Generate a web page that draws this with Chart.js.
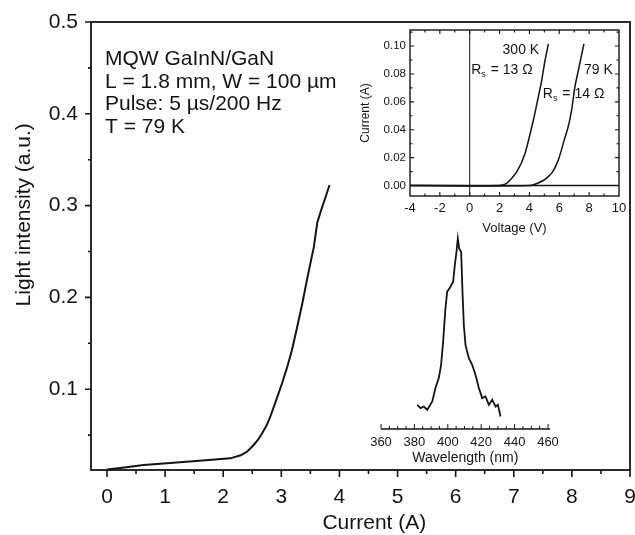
<!DOCTYPE html>
<html>
<head>
<meta charset="utf-8">
<script src="https://cdn.jsdelivr.net/npm/chart.js@4/dist/chart.umd.min.js"></script>
<style>
  html, body { margin: 0; padding: 0; background: #fff; }
  #wrap { position: relative; width: 635px; height: 535px; overflow: hidden; }
  canvas { position: absolute; }
  #main { left: 0; top: 0; }
  #iv { left: 360px; top: 25px; }
  #spec { left: 360px; top: 220px; }
</style>
</head>
<body>
<div id="wrap">
  <canvas id="main" width="635" height="535" style="width:635px;height:535px"></canvas>
  <canvas id="spec" width="212" height="252" style="width:212px;height:252px"></canvas>
  <canvas id="iv" width="272" height="212" style="width:272px;height:212px"></canvas>
</div>
<script>
// ---- Light output vs drive current (L-I curve) ----
const currentA = [0, 0.3, 0.63, 1.2, 1.7, 2.12, 2.3, 2.41, 2.52, 2.6, 2.67, 2.75, 2.81, 2.9, 3.01,
                  3.1, 3.18, 3.27, 3.36, 3.46, 3.56, 3.62, 3.7, 3.77, 3.83];
const lightIntensity = [0.0125, 0.0148, 0.0174, 0.0203, 0.0226, 0.0247, 0.028, 0.032, 0.039, 0.045, 0.052,
                        0.061, 0.070, 0.086, 0.106, 0.124, 0.142, 0.167, 0.193, 0.225, 0.255, 0.282,
                        0.298, 0.311, 0.3225];
const mainXTicks = [0, 1, 2, 3, 4, 5, 6, 7, 8, 9];
const mainXLabels = ['0', '1', '2', '3', '4', '5', '6', '7', '8', '9'];
const mainYTicks = [0.1, 0.2, 0.3, 0.4, 0.5];
const mainYLabels = ['0.1', '0.2', '0.3', '0.4', '0.5'];
const sampleInfo = ['MQW GaInN/GaN', 'L = 1.8 mm, W = 100 µm', 'Pulse: 5 µs/200 Hz', 'T = 79 K'];

// ---- I-V characteristics ----
const volt300K = [-4, 2.0, 2.49, 3.16, 3.71, 4.27, 4.6, 4.83, 5.05, 5.27];
const curr300K = [0, 0, 0.0017, 0.010, 0.0232, 0.0471, 0.0638, 0.0758, 0.090, 0.1016];
const volt79K = [-4, 4.05, 4.93, 5.49, 5.94, 6.27, 6.6, 6.83, 7.05, 7.38, 7.65];
const curr79K = [0, 0, 0.0036, 0.0089, 0.0184, 0.0304, 0.0423, 0.0543, 0.071, 0.0877, 0.1016];
const ivXTicks = [-4, -2, 0, 2, 4, 6, 8, 10];
const ivXLabels = ['-4', '-2', '0', '2', '4', '6', '8', '10'];
const ivYTicks = [0, 0.02, 0.04, 0.06, 0.08, 0.10];
const ivYLabels = ['0.00', '0.02', '0.04', '0.06', '0.08', '0.10'];

// ---- Emission spectrum ----
const wavelengthNm = [381.7, 383.7, 385.6, 387.7, 390.7, 392.6, 394.6, 396, 397.2, 398.6, 399.6, 401.6,
                      403.2, 404.2, 405.2, 406, 406.8, 408, 408.8, 409.6, 410.6, 412.6, 414.6, 416.6,
                      418.6, 420.6, 422.6, 424.6, 426.6, 428.6, 430, 431.6];
const specIntensity = [0.127, 0.11, 0.118, 0.101, 0.145, 0.215, 0.267, 0.337, 0.459, 0.634, 0.72, 0.747,
                       0.773, 0.86, 0.93, 1.0, 0.948, 0.93, 0.72, 0.546, 0.441, 0.372, 0.337, 0.284,
                       0.215, 0.162, 0.171, 0.127, 0.153, 0.118, 0.127, 0.066];
const specXTicks = [360, 380, 400, 420, 440, 460];
const specXLabels = ['360', '380', '400', '420', '440', '460'];

const FONT = '"Liberation Sans", Arial, Helvetica, sans-serif';
const INK = '#141414';

function pts(xs, ys) { return xs.map((x, i) => ({ x, y: ys[i] })); }
function range(a, b, step) { const out = []; for (let v = a; v <= b + 1e-9; v += step) out.push(+v.toFixed(6)); return out; }

function setTicks(values) { return s => { s.ticks = values.map(v => ({ value: v })); }; }
// fixed axis band; tick labels may overhang the plot edges
function fixHeight(h) { return s => { s.height = h; s.paddingLeft = 0; s.paddingRight = 0; }; }
function fixWidth(w) { return s => { s.width = w; s.paddingTop = 0; s.paddingBottom = 0; }; }

function drawTickMarks(ctx, chart, scale, values, len, side, inward) {
  const a = chart.chartArea;
  ctx.beginPath();
  values.forEach(v => {
    const p = scale.getPixelForValue(v);
    if (side === 'left') { ctx.moveTo(a.left, p); ctx.lineTo(inward ? a.left + len : a.left - len, p); }
    if (side === 'right') { ctx.moveTo(a.right, p); ctx.lineTo(inward ? a.right - len : a.right + len, p); }
    if (side === 'bottom') { ctx.moveTo(p, a.bottom); ctx.lineTo(p, inward ? a.bottom - len : a.bottom + len); }
    if (side === 'top') { ctx.moveTo(p, a.top); ctx.lineTo(p, inward ? a.top + len : a.top - len); }
  });
  ctx.stroke();
}

function text(ctx, str, x, y, font, align, baseline, rot) {
  ctx.save();
  ctx.font = font; ctx.fillStyle = INK;
  ctx.textAlign = align || 'left'; ctx.textBaseline = baseline || 'alphabetic';
  ctx.translate(x, y);
  if (rot) ctx.rotate(rot);
  ctx.fillText(str, 0, 0);
  ctx.restore();
}

// R with subscript s, followed by the rest of the label
function rsLabel(ctx, rest, x, y, size) {
  ctx.save();
  ctx.fillStyle = INK; ctx.textBaseline = 'alphabetic'; ctx.textAlign = 'left';
  ctx.font = size + 'px ' + FONT;
  ctx.fillText('R', x, y);
  const w = ctx.measureText('R').width;
  ctx.font = Math.round(size * 0.62) + 'px ' + FONT;
  ctx.fillText('s', x + w, y + 3);
  const ws = ctx.measureText('s').width;
  ctx.font = size + 'px ' + FONT;
  ctx.fillText(rest, x + w + ws + 1, y);
  ctx.restore();
}

Chart.defaults.font.family = FONT;
Chart.defaults.color = INK;

// ================= main L-I chart =================
const mainDecor = {
  id: 'mainDecor',
  afterDraw(chart) {
    const { ctx, chartArea: a, scales: { x, y } } = chart;
    ctx.save();
    ctx.strokeStyle = INK;
    ctx.lineWidth = 1.8;
    ctx.strokeRect(a.left, a.top, a.right - a.left, a.bottom - a.top);
    ctx.lineWidth = 1.6;
    drawTickMarks(ctx, chart, y, mainYTicks, 6, 'left', false);
    drawTickMarks(ctx, chart, y, [0.05, 0.15, 0.25, 0.35, 0.45], 3, 'left', false);
    drawTickMarks(ctx, chart, x, mainXTicks, 7, 'bottom', false);
    drawTickMarks(ctx, chart, x, range(0.5, 8.5, 1), 4, 'bottom', false);
    ctx.restore();

    const f = '21px ' + FONT;
    sampleInfo.forEach((line, i) => text(ctx, line, a.left + 14, a.top + 43 + i * 22.7, f));
    text(ctx, 'Current (A)', x.getPixelForValue(4.6), 523, f, 'center', 'middle');
    text(ctx, 'Light intensity (a.u.)', 24, y.getPixelForValue(0.29), f, 'center', 'middle', -Math.PI / 2);
  }
};

new Chart(document.getElementById('main'), {
  type: 'line',
  data: {
    datasets: [{
      data: pts(currentA, lightIntensity),
      borderColor: INK, borderWidth: 2, pointRadius: 0, tension: 0, fill: false
    }]
  },
  options: {
    responsive: false, animation: false, devicePixelRatio: 1,
    layout: { padding: { top: 22, right: 5, left: 0, bottom: 0 }, autoPadding: false },
    plugins: { legend: { display: false }, tooltip: { enabled: false } },
    scales: {
      x: {
        type: 'linear', min: -0.275, max: 9,
        afterBuildTicks: setTicks(mainXTicks),
        afterFit: fixHeight(65),
        grid: { display: false, drawTicks: false }, border: { display: false },
        ticks: { font: { size: 21 }, color: INK, padding: 15, maxRotation: 0, autoSkip: false,
                 callback: (v, i) => mainXLabels[i] }
      },
      y: {
        type: 'linear', min: 0.012, max: 0.5,
        afterBuildTicks: setTicks(mainYTicks),
        afterFit: fixWidth(91),
        grid: { display: false, drawTicks: false }, border: { display: false },
        ticks: { font: { size: 21 }, color: INK, padding: 13, autoSkip: false,
                 callback: (v, i) => mainYLabels[i] }
      }
    }
  },
  plugins: [mainDecor]
});

// ================= inset: I-V curves =================
const ivDecor = {
  id: 'ivDecor',
  afterDraw(chart) {
    const { ctx, chartArea: a, scales: { x, y } } = chart;
    ctx.save();
    ctx.strokeStyle = INK;
    ctx.lineWidth = 1.4;
    ctx.strokeRect(a.left, a.top, a.right - a.left, a.bottom - a.top);
    ctx.lineWidth = 1.1;
    const xMinor = range(-3, 9, 2);
    const yMinor = [0.01, 0.03, 0.05, 0.07, 0.09, 0.11];
    ['bottom', 'top'].forEach(side => {
      drawTickMarks(ctx, chart, x, ivXTicks.slice(1, -1), 4, side, true);
      drawTickMarks(ctx, chart, x, xMinor, 2.5, side, true);
    });
    ['left', 'right'].forEach(side => {
      drawTickMarks(ctx, chart, y, ivYTicks, 4, side, true);
      drawTickMarks(ctx, chart, y, yMinor, 2.5, side, true);
    });
    ctx.restore();

    const f14 = '14px ' + FONT;
    text(ctx, 'Voltage (V)', (a.left + a.right) / 2, 203, '13px ' + FONT, 'center', 'middle');
    text(ctx, 'Current (A)', 6, (a.top + a.bottom) / 2, '12px ' + FONT, 'center', 'middle', -Math.PI / 2);
    text(ctx, '300 K', x.getPixelForValue(2.2), y.getPixelForValue(0.0945), f14);
    rsLabel(ctx, ' = 13 \u03A9', x.getPixelForValue(0.1), y.getPixelForValue(0.0802), 14);
    text(ctx, '79 K', x.getPixelForValue(7.65), y.getPixelForValue(0.0802), f14);
    rsLabel(ctx, ' = 14 \u03A9', x.getPixelForValue(4.9), y.getPixelForValue(0.0629), 14);
  }
};

new Chart(document.getElementById('iv'), {
  type: 'line',
  data: {
    datasets: [
      { data: [{ x: -4, y: 0 }, { x: 10, y: 0 }], borderColor: INK, borderWidth: 1.6, pointRadius: 0 },
      { data: [{ x: 0, y: -0.0075 }, { x: 0, y: 0.1115 }], borderColor: INK, borderWidth: 1, pointRadius: 0 },
      { data: pts(volt300K, curr300K), borderColor: INK, borderWidth: 1.5, pointRadius: 0, tension: 0.2 },
      { data: pts(volt79K, curr79K), borderColor: INK, borderWidth: 1.5, pointRadius: 0, tension: 0.2 }
    ]
  },
  options: {
    responsive: false, animation: false, devicePixelRatio: 1,
    layout: { padding: { top: 5, right: 13, left: 0, bottom: 0 }, autoPadding: false },
    plugins: { legend: { display: false }, tooltip: { enabled: false } },
    scales: {
      x: {
        type: 'linear', min: -4, max: 10,
        afterBuildTicks: setTicks(ivXTicks),
        afterFit: fixHeight(41),
        grid: { display: false, drawTicks: false }, border: { display: false },
        ticks: { font: { size: 13 }, color: INK, padding: 5, maxRotation: 0, autoSkip: false,
                 callback: (v, i) => ivXLabels[i] }
      },
      y: {
        type: 'linear', min: -0.0075, max: 0.1115,
        afterBuildTicks: setTicks(ivYTicks),
        afterFit: fixWidth(50),
        grid: { display: false, drawTicks: false }, border: { display: false },
        ticks: { font: { size: 11.5 }, color: INK, padding: 4, autoSkip: false,
                 callback: (v, i) => ivYLabels[i] }
      }
    }
  },
  plugins: [ivDecor]
});

// ================= inset: emission spectrum =================
const specDecor = {
  id: 'specDecor',
  afterDraw(chart) {
    const { ctx, chartArea: a, scales: { x } } = chart;
    ctx.save();
    ctx.strokeStyle = INK;
    ctx.lineWidth = 1.3;
    ctx.beginPath();
    ctx.moveTo(a.left, a.bottom); ctx.lineTo(a.right + 2, a.bottom);
    ctx.stroke();
    ctx.lineWidth = 1;
    drawTickMarks(ctx, chart, x, specXTicks, 5, 'bottom', true);
    drawTickMarks(ctx, chart, x, range(365, 455, 5).filter(v => v % 20 !== 0), 3, 'bottom', true);
    ctx.restore();
    text(ctx, 'Wavelength (nm)', x.getPixelForValue(410.5), 238, '14px ' + FONT, 'center', 'middle');
  }
};

new Chart(document.getElementById('spec'), {
  type: 'line',
  data: {
    datasets: [{
      data: pts(wavelengthNm, specIntensity),
      borderColor: INK, borderWidth: 1.8, pointRadius: 0, tension: 0
    }]
  },
  options: {
    responsive: false, animation: false, devicePixelRatio: 1,
    layout: { padding: { top: 9, right: 24, left: 21, bottom: 0 }, autoPadding: false },
    plugins: { legend: { display: false }, tooltip: { enabled: false } },
    scales: {
      x: {
        type: 'linear', min: 360, max: 460,
        afterBuildTicks: setTicks(specXTicks),
        afterFit: fixHeight(43),
        grid: { display: false, drawTicks: false }, border: { display: false },
        ticks: { font: { size: 13 }, color: INK, padding: 6, maxRotation: 0, autoSkip: false,
                 callback: (v, i) => specXLabels[i] }
      },
      y: { type: 'linear', min: 0, max: 1.05, display: false }
    }
  },
  plugins: [specDecor]
});
</script>
</body>
</html>
